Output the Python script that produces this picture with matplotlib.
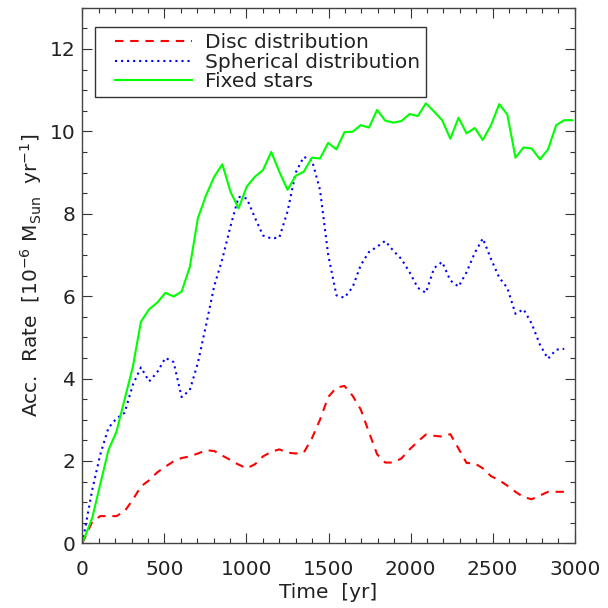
import numpy as np
import matplotlib
matplotlib.use('Agg')
import matplotlib.pyplot as plt
from matplotlib.ticker import MultipleLocator
from matplotlib.legend_handler import HandlerLine2D

# snapshot times [yr]
time = [0, 60, 109, 159, 208, 258, 308, 357, 407, 456,
        506, 556, 605, 655, 704, 754, 804, 853, 903, 952,
        1002, 1052, 1101, 1151, 1200, 1250, 1300, 1349, 1399, 1448,
        1498, 1548, 1597, 1647, 1696, 1746, 1796, 1845, 1895, 1944,
        1994, 2044, 2093, 2143, 2192, 2242, 2292, 2341, 2391, 2440,
        2490, 2540, 2589, 2639, 2688, 2738, 2788, 2837, 2887, 2936,
        2986]

# accretion rates [1e-6 Msun/yr]
disc = [0.0, 0.52, 0.66, 0.66, 0.66, 0.78, 1.06, 1.38, 1.53, 1.72,
        1.86, 1.99, 2.07, 2.11, 2.18, 2.26, 2.24, 2.13, 2.02, 1.91,
        1.82, 1.92, 2.11, 2.22, 2.28, 2.20, 2.18, 2.20, 2.55, 3.00,
        3.55, 3.78, 3.82, 3.58, 3.25, 2.70, 2.16, 1.96, 1.96, 2.06,
        2.28, 2.47, 2.64, 2.61, 2.59, 2.65, 2.30, 1.95, 1.94, 1.82,
        1.63, 1.53, 1.40, 1.25, 1.12, 1.07, 1.16, 1.25, 1.25, 1.25]

spherical = [0.0, 1.29, 2.15, 2.80, 3.03, 3.17, 3.85, 4.27, 3.93, 4.15,
             4.50, 4.40, 3.55, 3.72, 4.38, 5.30, 6.25, 6.90, 7.70, 8.41,
             8.37, 7.90, 7.47, 7.40, 7.42, 8.05, 9.00, 9.38, 9.30, 8.58,
             7.00, 6.02, 5.96, 6.22, 6.75, 7.07, 7.20, 7.34, 7.10, 6.90,
             6.58, 6.20, 6.08, 6.68, 6.83, 6.38, 6.23, 6.58, 7.05, 7.40,
             6.90, 6.45, 6.20, 5.57, 5.68, 5.33, 4.82, 4.48, 4.70, 4.72]

fixed = [0.0, 0.61, 1.43, 2.26, 2.71, 3.50, 4.29, 5.38, 5.68, 5.84,
         6.08, 5.99, 6.11, 6.71, 7.89, 8.45, 8.90, 9.20, 8.53, 8.13,
         8.66, 8.90, 9.06, 9.50, 9.02, 8.58, 8.92, 9.02, 9.36, 9.34,
         9.72, 9.56, 9.98, 9.99, 10.15, 10.09, 10.52, 10.26, 10.21, 10.25,
         10.42, 10.37, 10.68, 10.48, 10.27, 9.82, 10.33, 9.95, 10.08, 9.79,
         10.15, 10.66, 10.41, 9.36, 9.61, 9.58, 9.32, 9.56, 10.15, 10.27,
         10.27]

fs = 14.5
plt.rcParams['font.family'] = 'DejaVu Sans'
plt.rcParams['font.size'] = fs

fig = plt.figure(figsize=(6.08, 6.08), dpi=100)
ax = fig.add_axes([0.1354, 0.1064, 0.8099, 0.8809])

ax.plot(time[:len(disc)], disc, color='#ff0000', lw=1.5,
        linestyle=(0, (4, 3.3)), label='Disc distribution')
ax.plot(time[:len(spherical)], spherical, color='#0000ff', lw=1.5,
        linestyle=(0, (1, 1.9)), label='Spherical distribution')
ax.plot(time, fixed, color='#00ff00', lw=1.5, label='Fixed stars')

ax.set_xlim(0, 3000)
ax.set_ylim(0, 13)
ax.xaxis.set_major_locator(MultipleLocator(500))
ax.xaxis.set_minor_locator(MultipleLocator(100))
ax.yaxis.set_major_locator(MultipleLocator(2))
ax.yaxis.set_minor_locator(MultipleLocator(0.5))
ax.tick_params(which='both', direction='in', top=True, right=True,
               width=0.8, color='#333333', labelcolor='#222222')
ax.tick_params(which='major', length=7.2)
ax.tick_params(which='minor', length=3.6)
ax.tick_params(axis='x', which='major', pad=12, labelsize=fs)
ax.tick_params(axis='y', which='major', pad=5, labelsize=fs)
for sp in ax.spines.values():
    sp.set_linewidth(1.0)
    sp.set_color('#444444')

ax.set_xlabel('Time  [yr]', fontsize=fs, labelpad=3, color='#222222')
ax.set_ylabel(r'Acc.  Rate  [10$^{-6}$ M$_{\rm Sun}$  yr$^{-1}$]',
              fontsize=fs, color='#222222')
ax.yaxis.set_label_coords(-0.078, 0.5)

hmap = {ln: HandlerLine2D(xpad=0.68) for ln in ax.get_lines()}
leg = ax.legend(loc='upper left', bbox_to_anchor=(0.0266, 0.9634),
                borderaxespad=0, fontsize=fs, frameon=True, fancybox=False,
                framealpha=1, edgecolor='#333333', borderpad=0.3,
                labelspacing=0.02, handlelength=4.48, handletextpad=0.65,
                handler_map=hmap)
leg.get_frame().set_linewidth(1.0)
for t in leg.get_texts():
    t.set_color('#222222')

fig.savefig('out.png', dpi=100)
